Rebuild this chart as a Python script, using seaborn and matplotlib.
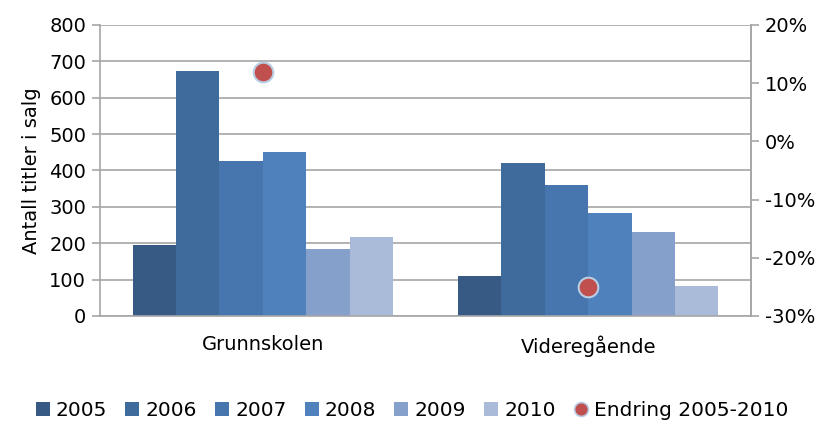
import numpy as np
import pandas as pd
import matplotlib
matplotlib.use("Agg")
import matplotlib.pyplot as plt
import seaborn as sns
from matplotlib.lines import Line2D
from matplotlib.ticker import FixedLocator

# Data
categories = ["Grunnskolen", "Videregående"]
years = ["2005", "2006", "2007", "2008", "2009", "2010"]
titles_2005 = [195, 110]
titles_2006 = [673, 420]
titles_2007 = [426, 360]
titles_2008 = [451, 283]
titles_2009 = [184, 231]
titles_2010 = [217, 82]
change_2005_2010 = [12, -25]  # percent

colors = ["#375A85", "#3F6A9C", "#4775AD", "#4F81BD", "#85A0CB", "#AABBD9"]

series = [titles_2005, titles_2006, titles_2007, titles_2008, titles_2009, titles_2010]
rows = []
for year, vals in zip(years, series):
    for cat, v in zip(categories, vals):
        rows.append({"kategori": cat, "år": year, "antall": v})
df = pd.DataFrame(rows)

sns.set_style("white")
plt.rcParams["font.family"] = ["DejaVu Sans"]
plt.rcParams["font.size"] = 14
plt.rcParams["text.color"] = "black"
plt.rcParams["axes.labelcolor"] = "black"
plt.rcParams["xtick.labelcolor"] = "black"
plt.rcParams["ytick.labelcolor"] = "black"

fig, ax = plt.subplots(figsize=(8.24, 4.23), dpi=100)
fig.subplots_adjust(left=0.1214, right=0.9114, top=0.941, bottom=0.253)

sns.barplot(data=df, x="kategori", y="antall", hue="år", order=categories,
            hue_order=years, palette=colors, width=0.8, linewidth=0,
            saturation=1, ax=ax, legend=True)

grid_col = "#A6A6A6"
ax.set_ylim(0, 800)
ax.set_yticks(range(0, 801, 100))
ax.yaxis.grid(True, color=grid_col, linewidth=1.2)
ax.set_axisbelow(True)
ax.set_xlim(-0.5, 1.5)
ax.set_xlabel("")
ax.set_ylabel("Antall titler i salg", fontsize=14, labelpad=6)
for s in ["left", "right", "bottom"]:
    ax.spines[s].set_color(grid_col)
    ax.spines[s].set_linewidth(1.2)
ax.spines["top"].set_visible(False)
ax.tick_params(axis="y", length=6, color=grid_col, width=1.2, pad=4, labelsize=14)
ax.tick_params(axis="x", which="major", length=0, pad=14, labelsize=14)
ax.xaxis.set_minor_locator(FixedLocator([-0.5, 0.5, 1.5]))
ax.tick_params(axis="x", which="minor", length=6, color=grid_col, width=1.2)

handles, labels = ax.get_legend_handles_labels()
ax.get_legend().remove()

ax2 = ax.twinx()
ax2.set_ylim(-30, 20)
ax2.set_yticks(range(-30, 21, 10))
ax2.set_yticklabels([f"{v}%" for v in range(-30, 21, 10)])
ax2.tick_params(axis="y", length=6, color=grid_col, width=1.2, pad=4, labelsize=14)
for s in ["left", "right", "bottom", "top"]:
    ax2.spines[s].set_visible(False)
ax2.spines["right"].set_visible(True)
ax2.spines["right"].set_color(grid_col)
ax2.spines["right"].set_linewidth(1.2)
ax2.grid(False)
sns.scatterplot(x=np.arange(len(categories)), y=change_2005_2010, ax=ax2,
                color="#C0504D", s=200, edgecolor="#B9CDE5", linewidth=1.5,
                zorder=5)
ax2.set_xlim(-0.5, 1.5)

dot = Line2D([], [], marker="o", linestyle="none", markersize=10,
             markerfacecolor="#C0504D", markeredgecolor="#B9CDE5",
             markeredgewidth=1.2)
handles = list(handles) + [dot]
labels = list(labels) + ["Endring 2005-2010"]
fig.legend(handles, labels, loc="lower center", bbox_to_anchor=(0.5, -0.035),
           ncol=7, frameon=False, fontsize=14.5, handlelength=0.7,
           handleheight=0.7, handletextpad=0.3, columnspacing=0.9)

fig.savefig("out.png", dpi=100)
